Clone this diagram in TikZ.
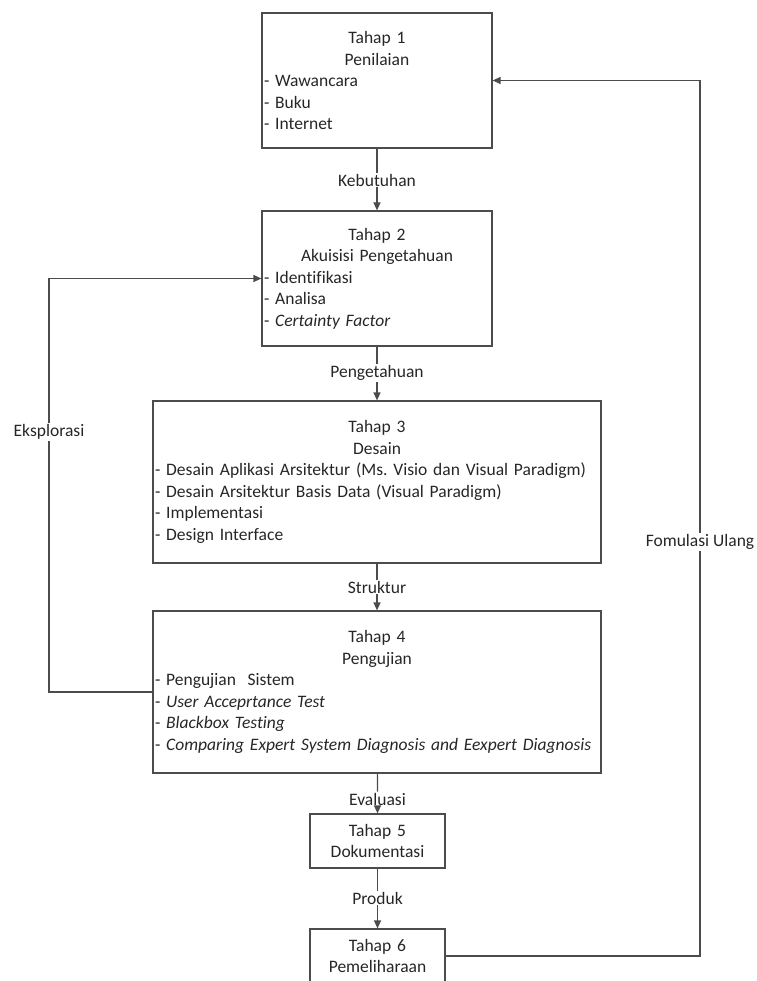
\documentclass[tikz,border=0pt]{standalone}
\usepackage{fontspec}
\setmainfont{Carlito}[Ligatures=NoCommon]
\usetikzlibrary{arrows.meta,positioning}

\newcommand{\tahapfont}{\fontsize{17.5}{21.5}\selectfont\frenchspacing}

\tikzset{
  tahap/.style={draw=black!70, line width=1.2pt, inner xsep=2pt, inner ysep=0pt,
    font=\tahapfont, text=black!85},
  lbl/.style={font=\tahapfont, text=black!85, inner sep=1pt},
  garis/.style={draw=black!70, line width=1.2pt},
  panah/.style={garis, -{Triangle[length=8pt,width=7pt]}}
}

\begin{document}
\begin{tikzpicture}[x=1pt, y=-1pt]
    \clip (0,0) rectangle (756,981);

    % Tahap boxes
    \node[tahap, text width=226pt, minimum height=135pt] (t1) at (377,80.5)
      {{\centering Tahap 1\\Penilaian\par}\raggedright
       - Wawancara\\- Buku\\- Internet};
    \node[tahap, text width=226pt, minimum height=135pt] (t2) at (377,278.5)
      {{\centering Tahap 2\\Akuisisi Pengetahuan\par}\raggedright
       - Identifikasi\\- Analisa\\- \textit{Certainty Factor}};
    \node[tahap, text width=444pt, minimum height=162pt] (t3) at (377,482)
      {{\centering Tahap 3\\Desain\par}\raggedright
       - Desain Aplikasi Arsitektur (Ms. Visio dan Visual Paradigm)\\
       - Desain Arsitektur Basis Data (Visual Paradigm)\\
       - Implementasi\\- Design Interface};
    \node[tahap, text width=444pt, minimum height=162pt] (t4) at (377,692)
      {{\centering Tahap 4\\Pengujian\par}\raggedright
       - Pengujian\ \ Sistem\\
       - \textit{User Acceprtance Test}\\
       - \textit{Blackbox Testing}\\
       - \textit{Comparing Expert System Diagnosis and Eexpert Diagnosis}};
    \node[tahap, text width=131pt, minimum height=54pt, align=center] (t5) at (377.5,841)
      {Tahap 5\\Dokumentasi};
    \node[tahap, text width=131pt, minimum height=54pt, align=center] (t6) at (377.5,956)
      {Tahap 6\\Pemeliharaan};

    % Labels
    \node[lbl] (keb) at (377,180) {Kebutuhan};
    \node[lbl] (pen) at (377,373) {Pengetahuan};
    \node[lbl] (str) at (377,587) {Struktur};
    \node[lbl] (eva) at (377.5,799) {Evaluasi};
    \node[lbl] (pro) at (377.5,898) {Produk};
    \node[lbl] (eks) at (49,432) {Eksplorasi};
    \node[lbl] (fom) at (700,542) {Fomulasi Ulang};

    % Connectors
    \draw[garis] (t1) -- (keb);
    \draw[panah] (keb) -- (t2);
    \draw[garis] (t2) -- (pen);
    \draw[panah] (pen) -- (t3);
    \draw[garis] (t3) -- (str);
    \draw[panah] (str) -- (t4);
    \draw[garis] (t4) -- (eva);
    \draw[panah] (eva) -- (t5);
    \draw[garis] (t5) -- (pro);
    \draw[panah] (pro) -- (t6);

    % Feedback loops
    \draw[garis] (t4.west) -| (eks.south);
    \draw[panah] (eks.north) |- (t2.west);
    \draw[garis] (t6.east) -| (fom.south);
    \draw[panah] (fom.north) |- (t1.east);
\end{tikzpicture}
\end{document}
